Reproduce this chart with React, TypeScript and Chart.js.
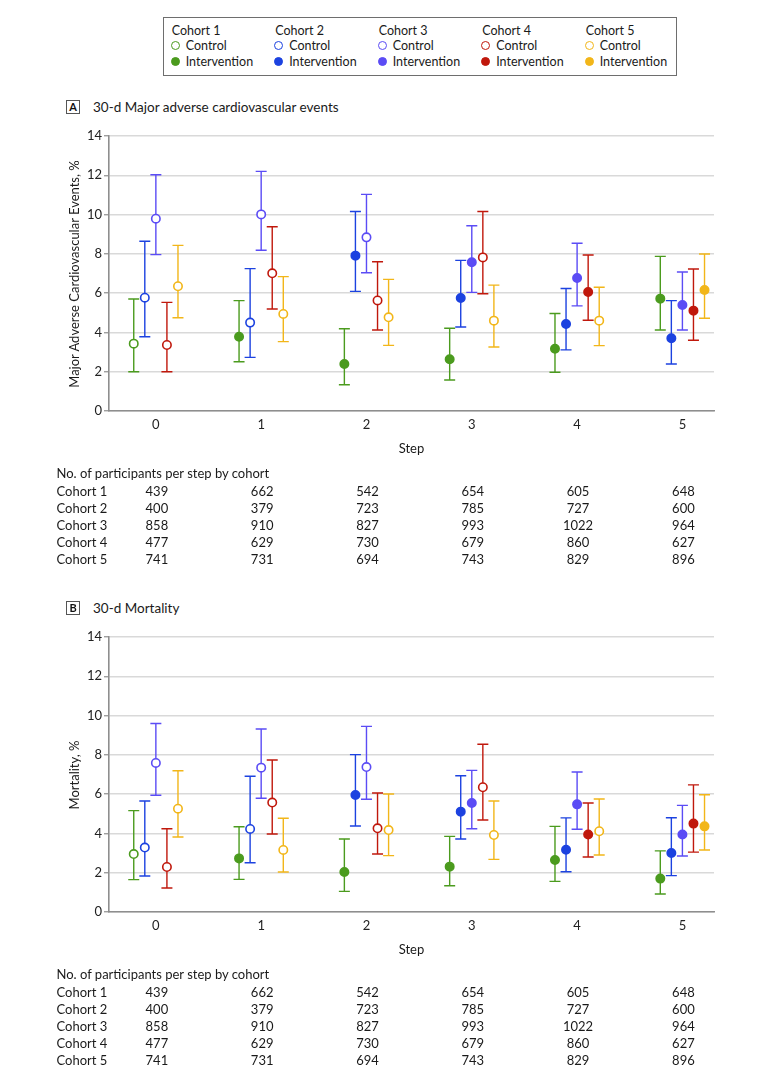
import React, { useEffect, useRef, useState } from 'react';
import { Chart, registerables } from 'chart.js';

Chart.register(...registerables);

const FONT = 'Lato, "Open Sans", sans-serif';

const steps = [0, 1, 2, 3, 4, 5];
const cohortNames = ['Cohort 1', 'Cohort 2', 'Cohort 3', 'Cohort 4', 'Cohort 5'];
const cohortColors = ['#4b9b1e', '#1c42e0', '#5b4cf5', '#c0180c', '#f2b619'];
// first step at which each cohort receives the intervention
const firstInterventionStep = [1, 2, 3, 4, 5];

// Panel A: 30-d MACE, % (rows = cohorts, columns = steps 0..5)
const maceEstimate = [
  [3.43, 3.78, 2.39, 2.63, 3.17, 5.72],
  [5.77, 4.5, 7.91, 5.75, 4.43, 3.7],
  [9.79, 10.01, 8.84, 7.57, 6.77, 5.4],
  [3.36, 7.01, 5.63, 7.82, 6.06, 5.11],
  [6.35, 4.94, 4.77, 4.6, 4.6, 6.16],
];
const maceLower = [
  [2.0, 2.51, 1.34, 1.58, 1.97, 4.12],
  [3.78, 2.73, 6.09, 4.28, 3.11, 2.39],
  [7.96, 8.18, 7.04, 6.04, 5.35, 4.12],
  [2.0, 5.19, 4.12, 5.97, 4.62, 3.6],
  [4.75, 3.53, 3.34, 3.26, 3.33, 4.72],
];
const maceUpper = [
  [5.7, 5.62, 4.19, 4.21, 4.96, 7.87],
  [8.64, 7.25, 10.16, 7.67, 6.24, 5.62],
  [12.03, 12.2, 11.03, 9.43, 8.54, 7.08],
  [5.53, 9.38, 7.6, 10.16, 7.94, 7.23],
  [8.43, 6.84, 6.7, 6.41, 6.3, 7.99],
];

// Panel B: 30-d mortality, %
const mortEstimate = [
  [2.95, 2.73, 2.04, 2.31, 2.65, 1.7],
  [3.28, 4.23, 5.96, 5.11, 3.17, 3.0],
  [7.59, 7.35, 7.38, 5.55, 5.48, 3.95],
  [2.29, 5.57, 4.26, 6.35, 3.95, 4.5],
  [5.26, 3.16, 4.17, 3.92, 4.11, 4.36],
];
const mortLower = [
  [1.65, 1.66, 1.05, 1.34, 1.56, 0.92],
  [1.83, 2.51, 4.38, 3.72, 2.05, 1.85],
  [5.94, 5.79, 5.74, 4.24, 4.21, 2.85],
  [1.22, 3.97, 2.95, 4.68, 2.8, 3.05],
  [3.82, 2.04, 2.87, 2.68, 2.9, 3.16],
];
const mortUpper = [
  [5.16, 4.34, 3.72, 3.85, 4.36, 3.11],
  [5.65, 6.91, 8.01, 6.94, 4.79, 4.8],
  [9.6, 9.32, 9.45, 7.21, 7.13, 5.43],
  [4.24, 7.74, 6.06, 8.54, 5.55, 6.47],
  [7.19, 4.77, 6.01, 5.65, 5.75, 5.97],
];

// Participants per step by cohort
const participants = [
  [439, 662, 542, 654, 605, 648],
  [400, 379, 723, 785, 727, 600],
  [858, 910, 827, 993, 1022, 964],
  [477, 629, 730, 679, 860, 627],
  [741, 731, 694, 743, 829, 896],
];

const yTicks = [0, 2, 4, 6, 8, 10, 12, 14];

const COHORT_SPREAD = 0.105;

const errorBarPlugin = {
  id: 'errorBars',
  beforeDatasetsDraw(chart: any) {
    const ctx = chart.ctx;
    const xs = chart.scales.x;
    const ys = chart.scales.y;
    chart.data.datasets.forEach((ds: any) => {
      ctx.save();
      ctx.strokeStyle = ds.borderColor;
      ctx.lineWidth = 1.4;
      ds.data.forEach((d: any) => {
        const px = xs.getPixelForValue(d.x);
        const yl = ys.getPixelForValue(d.lo);
        const yh = ys.getPixelForValue(d.hi);
        const cap = 5.5;
        ctx.beginPath();
        ctx.moveTo(px, yh);
        ctx.lineTo(px, yl);
        ctx.moveTo(px - cap, yh);
        ctx.lineTo(px + cap, yh);
        ctx.moveTo(px - cap, yl);
        ctx.lineTo(px + cap, yl);
        ctx.stroke();
      });
      ctx.restore();
    });
  },
};

type PanelProps = {
  top: number;
  letter: string;
  title: string;
  yTitle: string;
  est: number[][];
  lo: number[][];
  hi: number[][];
};

const CANVAS_W = 740;
const CANVAS_H = 321;
const CANVAS_TOP = 120;

function Panel({ top, letter, title, yTitle, est, lo, hi }: PanelProps) {
  const canvasRef = useRef<HTMLCanvasElement | null>(null);
  const [xs, setXs] = useState<number[]>(steps.map((s) => 155.7 + s * 105.3));

  useEffect(() => {
    if (!canvasRef.current) return;
    const datasets = cohortNames.map((name, c) => ({
      label: name,
      data: steps.map((s, i) => ({
        x: s + (c - 2) * COHORT_SPREAD,
        y: est[c][i],
        lo: lo[c][i],
        hi: hi[c][i],
      })),
      borderColor: cohortColors[c],
      pointBorderColor: cohortColors[c],
      pointBackgroundColor: steps.map((s) => (s >= firstInterventionStep[c] ? cohortColors[c] : '#ffffff')),
      pointRadius: 4.2,
      pointBorderWidth: 1.6,
      showLine: false,
    }));

    const chart = new Chart(canvasRef.current, {
      type: 'scatter',
      data: { datasets },
      plugins: [errorBarPlugin],
      options: {
        animation: false,
        responsive: false,
        devicePixelRatio: 1,
        layout: { padding: { left: 0, right: 26, top: 16, bottom: 0 } },
        plugins: { legend: { display: false }, tooltip: { enabled: false } },
        scales: {
          x: {
            type: 'linear',
            min: -0.445,
            max: 5.3,
            afterBuildTicks: (scale: any) => {
              scale.ticks = steps.map((v) => ({ value: v }));
            },
            afterFit: (scale: any) => {
              scale.height = 30;
            },
            grid: { display: false, drawTicks: false },
            border: { display: true, color: '#8e8e8e', width: 1.6 },
            ticks: {
              padding: 6,
              color: '#222',
              font: { family: FONT, size: 13 },
              autoSkip: false,
              maxRotation: 0,
            },
          },
          y: {
            type: 'linear',
            min: 0,
            max: 14,
            afterBuildTicks: (scale: any) => {
              scale.ticks = yTicks.map((v) => ({ value: v }));
            },
            afterFit: (scale: any) => {
              scale.width = 109;
            },
            grid: {
              color: '#d9d9d9',
              lineWidth: 1.5,
              drawTicks: true,
              tickLength: 5,
              tickColor: '#8e8e8e',
              tickWidth: 1.2,
            },
            border: { display: true, color: '#8e8e8e', width: 1.6 },
            ticks: {
              padding: 2,
              color: '#222',
              font: { family: FONT, size: 13 },
            },
          },
        },
      },
    } as any);

    setXs(steps.map((s) => chart.scales.x.getPixelForValue(s)));

    return () => {
      chart.destroy();
    };
  }, []);

  const plotTop = top + CANVAS_TOP + 16;
  const plotBottom = top + CANVAS_TOP + CANVAS_H - 30;
  const rowH = 17.1;

  return (
    <>
      <div
        style={{
          position: 'absolute',
          left: 66,
          top: top + 99.5,
          width: 14,
          height: 14,
          border: '1px solid #555',
          boxSizing: 'border-box',
          fontFamily: FONT,
          fontWeight: 700,
          fontSize: 11,
          lineHeight: '12px',
          textAlign: 'center',
          color: '#111',
        }}
      >
        {letter}
      </div>
      <div
        style={{
          position: 'absolute',
          left: 93,
          top: top + 98,
          fontFamily: FONT,
          fontSize: 13.5,
          lineHeight: '18px',
          color: '#1a1a1a',
          whiteSpace: 'nowrap',
        }}
      >
        {title}
      </div>
      <canvas
        ref={canvasRef}
        width={CANVAS_W}
        height={CANVAS_H}
        style={{ position: 'absolute', left: 0, top: top + CANVAS_TOP, width: CANVAS_W, height: CANVAS_H }}
      />
      <div
        style={{
          position: 'absolute',
          left: 73.5 - 200,
          top: (plotTop + plotBottom) / 2 - 9,
          width: 400,
          height: 18,
          lineHeight: '18px',
          textAlign: 'center',
          transform: 'rotate(-90deg)',
          fontFamily: FONT,
          fontSize: 13,
          color: '#1a1a1a',
          whiteSpace: 'nowrap',
        }}
      >
        {yTitle}
      </div>
      <div
        style={{
          position: 'absolute',
          left: 311.5,
          width: 200,
          top: top + 448 - 9,
          lineHeight: '18px',
          textAlign: 'center',
          fontFamily: FONT,
          fontSize: 13,
          color: '#1a1a1a',
        }}
      >
        Step
      </div>
      <div
        style={{
          position: 'absolute',
          left: 56.5,
          top: top + 473 - 9,
          lineHeight: '18px',
          fontFamily: FONT,
          fontSize: 13,
          color: '#1a1a1a',
          whiteSpace: 'nowrap',
        }}
      >
        No. of participants per step by cohort
      </div>
      {cohortNames.map((name, c) => (
        <React.Fragment key={name}>
          <div
            style={{
              position: 'absolute',
              left: 56.5,
              top: top + 490.7 + c * rowH - 9,
              lineHeight: '18px',
              fontFamily: FONT,
              fontSize: 13,
              color: '#1a1a1a',
              whiteSpace: 'nowrap',
            }}
          >
            {name}
          </div>
          {participants[c].map((n, i) => (
            <div
              key={i}
              style={{
                position: 'absolute',
                left: xs[i] + 1 - 30,
                width: 60,
                textAlign: 'center',
                top: top + 490.7 + c * rowH - 9,
                lineHeight: '18px',
                fontFamily: FONT,
                fontSize: 13,
                color: '#1a1a1a',
              }}
            >
              {n}
            </div>
          ))}
        </React.Fragment>
      ))}
    </>
  );
}

function Legend() {
  const colX = [171.7, 275.2, 378.7, 482.2, 585.7];
  const rows = [
    { label: 'Control', filled: false, y: 45.5 },
    { label: 'Intervention', filled: true, y: 61.8 },
  ];
  const text = { fontFamily: FONT, fontSize: 12.5, color: '#1a1a1a', lineHeight: '16px', whiteSpace: 'nowrap' as const };
  return (
    <>
      <div
        style={{
          position: 'absolute',
          left: 162.5,
          top: 16.5,
          width: 514,
          height: 59,
          border: '1px solid #6e6e6e',
          boxSizing: 'border-box',
        }}
      />
      {cohortNames.map((name, c) => (
        <React.Fragment key={name}>
          <div style={{ position: 'absolute', left: colX[c], top: 30.7 - 8, ...text }}>{name}</div>
          {rows.map((r) => (
            <React.Fragment key={r.label}>
              <div
                style={{
                  position: 'absolute',
                  left: colX[c] + 3.3 - 4.5,
                  top: r.y - 4.5,
                  width: 9,
                  height: 9,
                  borderRadius: '50%',
                  boxSizing: 'border-box',
                  border: `1.6px solid ${cohortColors[c]}`,
                  background: r.filled ? cohortColors[c] : '#ffffff',
                }}
              />
              <div style={{ position: 'absolute', left: colX[c] + 14, top: r.y - 8, ...text }}>{r.label}</div>
            </React.Fragment>
          ))}
        </React.Fragment>
      ))}
    </>
  );
}

export default function App() {
  return (
    <div style={{ position: 'absolute', left: 0, top: 0, width: 780, height: 1079, background: '#fff' }}>
      <Legend />
      <Panel
        top={0}
        letter="A"
        title="30-d Major adverse cardiovascular events"
        yTitle="Major Adverse Cardiovascular Events, %"
        est={maceEstimate}
        lo={maceLower}
        hi={maceUpper}
      />
      <Panel
        top={501}
        letter="B"
        title="30-d Mortality"
        yTitle="Mortality, %"
        est={mortEstimate}
        lo={mortLower}
        hi={mortUpper}
      />
    </div>
  );
}
